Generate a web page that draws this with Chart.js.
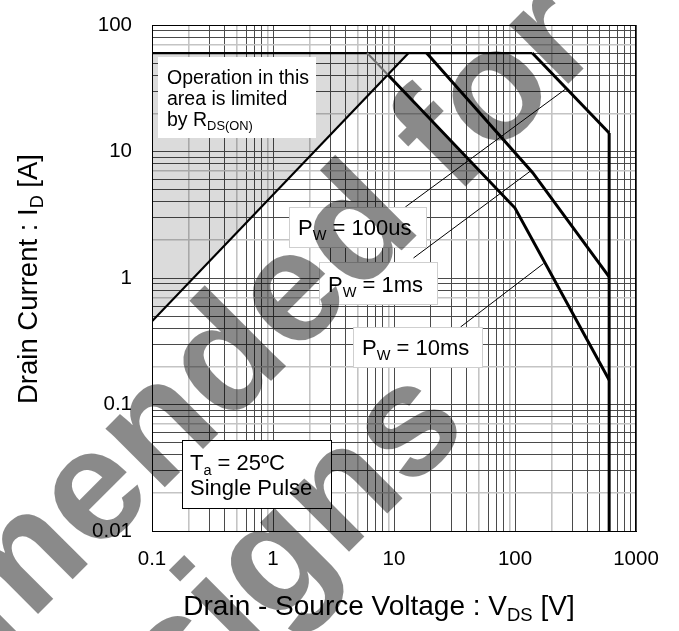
<!DOCTYPE html>
<html>
<head>
<meta charset="utf-8">
<script src="https://cdn.jsdelivr.net/npm/chart.js@4.4.1/dist/chart.umd.min.js"></script>
<style>
  html, body { margin: 0; padding: 0; background: #fff; }
  #soa { display: block; }
</style>
</head>
<body>
<canvas id="soa" width="679" height="631"></canvas>
<script>
// ── Data (V in volts, I in amps) ──────────────────────────────────────────
const xDecades    = [0.1, 1, 10, 100, 1000];
const xTickLabels = ['0.1', '1', '10', '100', '1000'];
const yDecades    = [0.01, 0.1, 1, 10, 100];
const yTickLabels = ['0.01', '0.1', '1', '10', '100'];

const rdsV   = [0.1, 13.2];          const rdsI   = [0.455, 60];
const idV    = [0.1, 139];           const idI    = [60, 60];
const us100V = [139, 600];           const us100I = [60, 14];
const ms1V   = [18.6, 140, 600];     const ms1I   = [60, 6.8, 1.02];
const ms10V  = [6, 8.9, 100, 600];   const ms10I  = [60, 40.4, 3.57, 0.156];
const vdssV  = [600, 600];           const vdssI  = [14, 0.01];

const lead100usV = [12.4, 260];      const lead100usI = [3.64, 31];
const lead1msV   = [14.5, 134];      const lead1msI   = [1.44, 7.0];
const lead10msV  = [35.5, 172];      const lead10msI  = [0.41, 1.3];

// grid lines that are printed lighter in the original
const xLightGrid = [0.2, 0.5, 0.9, 2, 5, 9, 50, 90, 200];
const yLightGrid = [0.02, 0.07, 0.2, 0.7, 2, 7, 20, 70];

// ── Helpers ───────────────────────────────────────────────────────────────
const FONT = '"Liberation Sans", Arial, Helvetica, sans-serif';
const pts  = (xs, ys) => xs.map((x, i) => ({ x, y: ys[i] }));
const near = (a, b) => Math.abs(a - b) < b * 1e-6;

function logGrid(decades) {
  const out = [];
  for (let i = 0; i < decades.length - 1; i++)
    for (let k = 1; k <= 9; k++) out.push(Math.round(decades[i] * k * 1e6) / 1e6);
  out.push(decades[decades.length - 1]);
  return out;
}

function gridColor(light) {
  return c => light.some(v => near(c.tick.value, v)) ? '#c4c4c4' : '#4a4a4a';
}
function gridWidth(light) {
  return c => light.some(v => near(c.tick.value, v)) ? 1.6 : 1;
}

// text with subscripts: parts = [[text, isSub], ...]
function rich(ctx, parts, x, y, size, align) {
  const fontOf = sub => `${sub ? size * 0.66 : size}px ${FONT}`;
  let w = 0;
  for (const [t, sub] of parts) { ctx.font = fontOf(sub); w += ctx.measureText(t).width; }
  let cx = align === 'center' ? x - w / 2 : x;
  ctx.textAlign = 'left';
  ctx.textBaseline = 'alphabetic';
  for (const [t, sub] of parts) {
    ctx.font = fontOf(sub);
    ctx.fillText(t, cx, sub ? y + size * 0.22 : y);
    cx += ctx.measureText(t).width;
  }
}

function box(ctx, x0, y0, x1, y1, stroke) {
  ctx.fillStyle = '#fff';
  ctx.fillRect(x0, y0, x1 - x0, y1 - y0);
  if (stroke) {
    ctx.strokeStyle = stroke; ctx.lineWidth = 1;
    ctx.strokeRect(x0 + 0.5, y0 + 0.5, x1 - x0 - 1, y1 - y0 - 1);
  }
}

// ── Plugins ───────────────────────────────────────────────────────────────
const framePlugin = {
  id: 'frame',
  afterDatasetsDraw(chart) {
    const { ctx, chartArea: a } = chart;
    ctx.save();
    ctx.strokeStyle = '#000'; ctx.lineWidth = 1;
    ctx.strokeRect(Math.round(a.left) + 0.5, Math.round(a.top) + 0.5,
                   Math.round(a.right - a.left) - 1, Math.round(a.bottom - a.top));
    ctx.restore();
  }
};

const labelPlugin = {
  id: 'labels',
  afterDatasetsDraw(chart) {
    const ctx = chart.ctx;
    ctx.save();

    box(ctx, 158, 57, 316, 138);
    ctx.fillStyle = '#000';
    rich(ctx, [['Operation in this', 0]], 167, 84, 19.5);
    rich(ctx, [['area is limited', 0]], 167, 105, 19.5);
    rich(ctx, [['by R', 0], ['DS(ON)', 1]], 167, 126, 19.5);

    box(ctx, 289, 207, 427, 248, '#cfcfcf');
    ctx.fillStyle = '#000';
    rich(ctx, [['P', 0], ['W', 1], [' = 100us', 0]], 298, 235, 22);

    box(ctx, 319, 262, 438, 305, '#cfcfcf');
    ctx.fillStyle = '#000';
    rich(ctx, [['P', 0], ['W', 1], [' = 1ms', 0]], 328, 292, 22);

    box(ctx, 353, 327, 483, 368, '#cfcfcf');
    ctx.fillStyle = '#000';
    rich(ctx, [['P', 0], ['W', 1], [' = 10ms', 0]], 362, 355, 22);

    box(ctx, 182, 440, 332, 509, '#000');
    ctx.fillStyle = '#000';
    rich(ctx, [['T', 0], ['a', 1], [' = 25ºC', 0]], 190, 470, 22);
    rich(ctx, [['Single Pulse', 0]], 190, 495, 22);

    // axis titles
    rich(ctx, [['Drain - Source Voltage : V', 0], ['DS', 1], [' [V]', 0]], 379, 615, 28, 'center');
    ctx.translate(37, 279);
    ctx.rotate(-Math.PI / 2);
    rich(ctx, [['Drain Current : I', 0], ['D', 1], [' [A]', 0]], 0, 0, 27.5, 'center');
    ctx.restore();
  }
};

const watermarkPlugin = {
  id: 'watermark',
  afterDraw(chart) {
    const ctx = chart.ctx;
    ctx.save();
    ctx.rotate(-Math.PI / 4);
    ctx.fillStyle = 'rgba(0,0,0,0.46)';
    ctx.font = `bold 158px ${FONT}`;
    ctx.textAlign = 'right';
    ctx.textBaseline = 'alphabetic';
    ctx.fillText('Not Recommended for', 393, 461);
    ctx.fillText('New Designs', 30, 637);
    ctx.restore();
  }
};

// ── Chart ─────────────────────────────────────────────────────────────────
const thick = { showLine: true, pointRadius: 0, borderColor: '#000', borderWidth: 3,
                borderJoinStyle: 'miter', fill: false, tension: 0 };
const thin  = { showLine: true, pointRadius: 0, borderColor: '#000', borderWidth: 1,
                fill: false, tension: 0 };

new Chart(document.getElementById('soa'), {
  type: 'scatter',
  plugins: [framePlugin, labelPlugin, watermarkPlugin],
  data: {
    datasets: [
      { ...thin, label: 'lead 100us', data: pts(lead100usV, lead100usI) },
      { ...thin, label: 'lead 1ms',   data: pts(lead1msV, lead1msI) },
      { ...thin, label: 'lead 10ms',  data: pts(lead10msV, lead10msI) },
      { ...thick, label: 'VDSS',  data: pts(vdssV, vdssI) },
      { ...thick, label: '100us', data: pts(us100V, us100I) },
      { ...thick, label: '1ms',   data: pts(ms1V, ms1I) },
      { ...thick, label: '10ms',  data: pts(ms10V, ms10I),
        segment: { borderColor: c => c.p0DataIndex === 0 ? '#707070' : '#000',
                   borderWidth: c => c.p0DataIndex === 0 ? 2 : 3 } },
      { ...thick, label: 'ID pulse', borderWidth: 2.2, data: pts(idV, idI) },
      { ...thick, label: 'RDS(on)', borderWidth: 2.2, data: pts(rdsV, rdsI),
        fill: { value: 60 }, backgroundColor: 'rgba(0,0,0,0.14)' }
    ]
  },
  options: {
    responsive: false, animation: false, events: [],
    layout: { padding: { top: 25, right: 43, bottom: 0, left: 0 } },
    plugins: { legend: { display: false }, tooltip: { enabled: false } },
    scales: {
      x: { type: 'logarithmic', min: 0.1, max: 1000,
           afterBuildTicks: s => { s.ticks = logGrid(xDecades).map(v => ({ value: v })); },
           afterFit: s => { s.height = 100; },
           ticks: { autoSkip: false, maxRotation: 0, padding: 16, color: '#000',
                    font: { family: FONT, size: 20.5 },
                    callback: v => { const i = xDecades.findIndex(d => near(v, d)); return i >= 0 ? xTickLabels[i] : ''; } },
           grid: { drawTicks: false, color: gridColor(xLightGrid), lineWidth: gridWidth(xLightGrid) },
           border: { color: '#000', width: 1 } },
      y: { type: 'logarithmic', min: 0.01, max: 100,
           afterBuildTicks: s => { s.ticks = logGrid(yDecades).map(v => ({ value: v })); },
           afterFit: s => { s.width = 152; s.paddingTop = 0; s.paddingBottom = 0; },
           ticks: { autoSkip: false, padding: 20, color: '#000',
                    font: { family: FONT, size: 20.5 },
                    callback: v => { const i = yDecades.findIndex(d => near(v, d)); return i >= 0 ? yTickLabels[i] : ''; } },
           grid: { drawTicks: false, color: gridColor(yLightGrid), lineWidth: gridWidth(yLightGrid) },
           border: { color: '#000', width: 1 } }
    }
  }
});
</script>
</body>
</html>
